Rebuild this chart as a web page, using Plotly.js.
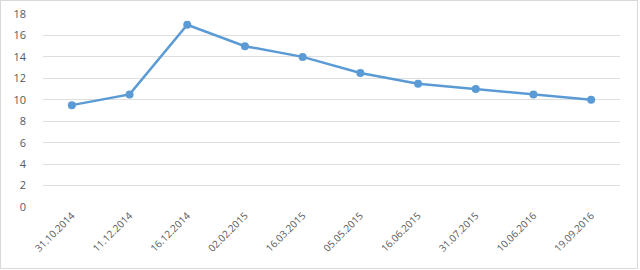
<!DOCTYPE html>
<html>
<head>
<meta charset="utf-8">
<script src="https://cdn.plot.ly/plotly-3.0.1.min.js"></script>
<style>
html,body{margin:0;padding:0;background:#fff;}
#chart{width:636px;height:267px;border:1px solid #d9d9d9;}
</style>
</head>
<body>
<div id="chart"></div>
<script>
const categories = ["31.10.2014","11.12.2014","16.12.2014","02.02.2015","16.03.2015","05.05.2015","16.06.2015","31.07.2015","10.06.2016","19.09.2016"];
const values = [9.5, 10.5, 17, 15, 14, 12.5, 11.5, 11, 10.5, 10];
const yTicks = [0, 2, 4, 6, 8, 10, 12, 14, 16, 18];

const trace = {
  x: categories,
  y: values,
  type: 'scatter',
  mode: 'lines+markers',
  line: {color: '#5b9bd5', width: 2.5},
  marker: {color: '#5b9bd5', size: 8},
  hoverinfo: 'x+y'
};

const layout = {
  width: 636,
  height: 267,
  margin: {l: 42, r: 17, t: 13, b: 61},
  paper_bgcolor: '#ffffff',
  plot_bgcolor: '#ffffff',
  showlegend: false,
  font: {family: 'Open Sans, Liberation Sans, sans-serif', size: 10, color: '#595959'},
  xaxis: {
    type: 'category',
    range: [-0.5, 9.5],
    tickangle: -45,
    showgrid: false,
    showline: false,
    zeroline: false,
    ticks: '',
    tickfont: {size: 10, color: '#595959'},
    fixedrange: true
  },
  yaxis: {
    range: [0, 18],
    tickvals: yTicks,
    ticktext: yTicks.map(String),
    showgrid: true,
    gridcolor: '#dedede',
    gridwidth: 1,
    zeroline: false,
    showline: false,
    ticks: '',
    ticklabelstandoff: 16,
    tickfont: {size: 11, color: '#595959'},
    fixedrange: true
  }
};

Plotly.newPlot('chart', [trace], layout, {displayModeBar: false, staticPlot: true});
</script>
</body>
</html>
